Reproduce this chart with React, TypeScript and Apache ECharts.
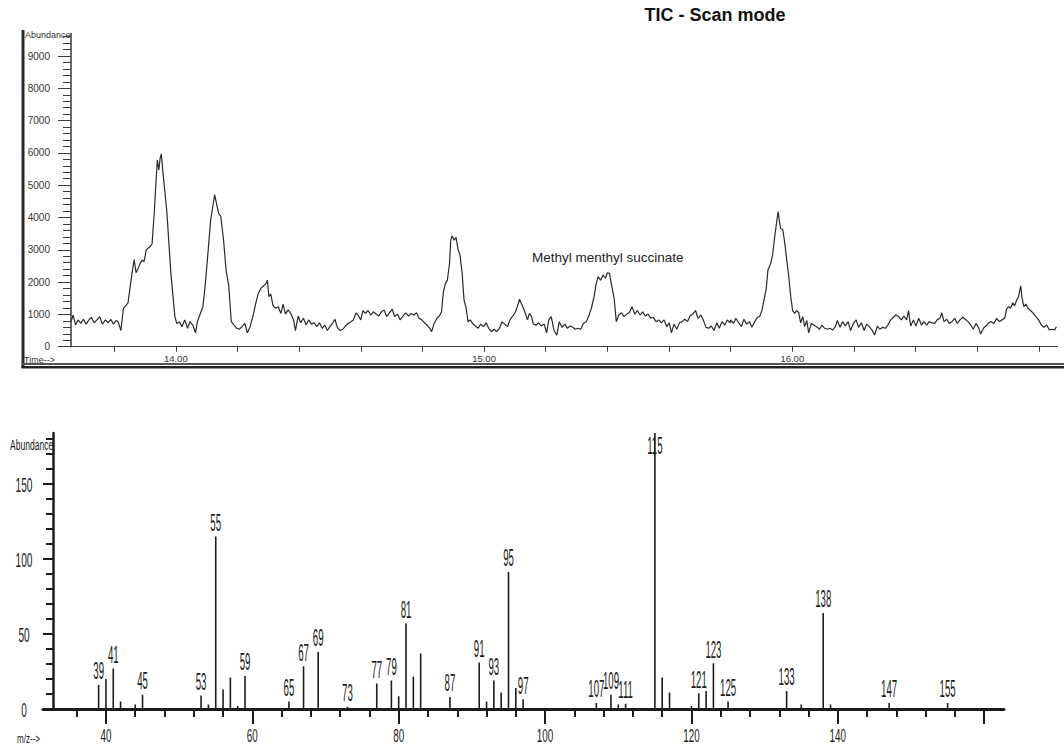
import React, { useEffect, useRef } from "react";
import * as echarts from "echarts";

// ---------- Top panel: total ion chromatogram (TIC) ----------
const TIC_TITLE = "TIC - Scan mode";
const PEAK_NOTE = "Methyl menthyl succinate";

// [retention time (min), abundance]
const ticSegment1: [number, number][] = [
  [13.660,775],[13.667,980],[13.675,670],[13.683,830],[13.692,720],[13.700,850],[13.709,700],[13.718,830],[13.726,910],[13.735,740],
  [13.744,830],[13.753,930],[13.762,700],[13.772,830],[13.780,740],[13.789,850],[13.798,700],[13.806,810],[13.813,770],[13.822,500],
  [13.830,1190],[13.839,1290],[13.845,1360],[13.852,1860],[13.858,2270],[13.865,2700],[13.871,2290],[13.878,2430],[13.884,2580],[13.891,2680],
  [13.897,2630],[13.904,2990],[13.910,3050],[13.917,3100],[13.923,3180],[13.930,4130],[13.936,5160],[13.940,5780],[13.945,5470],[13.949,5830],
  [13.953,5970],[13.958,5420],[13.964,4850],[13.971,4180],[13.977,3300],[13.984,2270],[13.990,1650],[13.997,930],[14.003,720],[14.012,775],
  [14.020,620],[14.029,830],[14.038,570],[14.046,775],[14.055,670],[14.064,430],[14.070,775],[14.079,1010],[14.088,1240],[14.096,1960],
  [14.105,2990],[14.113,3920],[14.120,4340],[14.126,4700],[14.133,4390],[14.139,4130],[14.146,4030],[14.155,3300],[14.163,2370],[14.172,1860],
  [14.180,775],[14.189,670],[14.198,570],[14.206,540],[14.215,620],[14.224,720],[14.232,430],[14.241,620],[14.250,930],[14.258,1290],
  [14.267,1630],[14.276,1810],[14.284,1880],[14.293,1960],[14.297,2060],[14.302,1550],[14.308,1630],[14.315,1290],[14.323,1190],[14.332,1240],
  [14.341,1030],[14.348,1320],[14.356,1010],[14.364,1140],[14.373,1030],[14.382,830],[14.388,500],[14.397,950],[14.405,740],[14.414,880],
  [14.423,670],[14.431,830],[14.440,700],[14.449,740],[14.457,620],[14.466,740],[14.475,570],[14.483,670],[14.492,500],[14.500,620],
  [14.509,740],[14.516,850],[14.524,600],[14.533,500],[14.542,540],[14.550,640],[14.559,720],[14.568,775],[14.576,830],[14.585,1050],
  [14.591,980],[14.600,830],[14.607,1120],[14.615,1030],[14.624,1120],[14.632,980],[14.641,1080],[14.650,1010],[14.658,950],[14.667,1080],
  [14.676,1140],[14.684,930],[14.693,1050],[14.702,1160],[14.710,930],[14.719,1010],[14.728,830],
];

const ticSegment2: [number, number][] = [
  [14.737,950],[14.746,1050],[14.755,950],[14.763,1030],[14.772,980],[14.781,1050],[14.789,880],[14.798,830],[14.807,740],[14.815,670],
  [14.824,570],[14.830,465],[14.838,720],[14.847,880],[14.855,950],[14.862,1080],[14.868,1700],[14.875,1960],[14.881,2060],[14.888,2580],
  [14.892,3300],[14.896,3430],[14.903,3300],[14.909,3390],[14.916,2990],[14.922,2840],[14.929,2270],[14.935,1450],[14.942,1190],[14.948,775],
  [14.955,830],[14.963,720],[14.972,640],[14.981,570],[14.989,700],[14.998,620],[15.007,740],[15.015,570],[15.024,465],[15.033,540],
  [15.041,465],[15.050,570],[15.058,775],[15.067,700],[15.076,620],[15.084,830],[15.093,950],[15.102,1080],[15.108,1240],[15.115,1470],
  [15.121,1340],[15.128,1190],[15.134,1030],[15.141,830],[15.147,1030],[15.154,930],[15.160,700],[15.169,670],[15.177,740],[15.186,640],
  [15.195,700],[15.203,430],[15.210,830],[15.218,930],[15.227,500],[15.236,360],[15.244,775],[15.253,600],[15.262,700],[15.270,570],
  [15.279,640],[15.288,600],[15.296,540],[15.305,570],[15.314,540],[15.322,720],[15.331,775],[15.339,930],[15.348,1190],[15.357,1550],
  [15.364,1960],[15.370,2170],[15.378,2060],[15.386,2220],[15.394,2120],[15.400,2290],[15.407,2270],[15.413,1940],[15.422,1500],[15.429,775],
  [15.437,980],[15.446,1050],[15.454,930],[15.463,1010],[15.471,1050],[15.480,1240],[15.489,1010],[15.497,1120],[15.506,980],[15.515,1080],
  [15.523,950],[15.532,1010],[15.541,880],[15.549,910],[15.558,775],[15.567,830],[15.575,740],[15.584,830],[15.593,620],[15.601,740],
  [15.608,430],[15.616,700],[15.625,540],[15.634,740],[15.642,775],[15.651,850],[15.660,775],[15.668,950],[15.677,1010],[15.686,1120],
  [15.694,880],[15.703,980],[15.711,830],[15.720,600],[15.729,570],[15.737,640],[15.746,500],[15.755,740],[15.763,570],[15.772,775],
  [15.781,670],[15.789,830],[15.798,740],
];

const ticSegment3: [number, number][] = [
  [15.800,830],[15.809,720],[15.817,880],[15.826,740],[15.835,620],[15.843,850],[15.852,700],[15.861,775],[15.869,600],[15.878,775],
  [15.887,910],[15.895,950],[15.902,1140],[15.908,1450],[15.915,1760],[15.921,2380],[15.930,2580],[15.936,2840],[15.943,3410],[15.949,3840],
  [15.954,4180],[15.958,3900],[15.962,3660],[15.969,3630],[15.975,3250],[15.982,2680],[15.988,2220],[15.995,1550],[16.001,1120],[16.008,1030],
  [16.014,1120],[16.021,1050],[16.027,740],[16.034,930],[16.040,620],[16.047,810],[16.053,430],[16.062,720],[16.070,670],[16.079,620],
  [16.088,540],[16.096,670],[16.105,570],[16.114,540],[16.122,570],[16.131,520],[16.140,620],[16.146,810],[16.155,600],[16.163,775],
  [16.172,640],[16.181,775],[16.189,500],[16.198,720],[16.207,830],[16.215,600],[16.224,740],[16.233,500],[16.241,700],[16.250,620],
  [16.258,520],[16.267,360],[16.276,640],[16.284,540],[16.293,600],[16.302,570],[16.310,670],[16.319,830],[16.328,910],[16.336,980],
  [16.345,930],[16.354,830],[16.362,950],[16.371,830],[16.377,1120],[16.384,640],[16.393,830],[16.401,640],[16.410,880],[16.419,670],
  [16.427,775],[16.436,670],[16.444,775],[16.453,740],[16.462,720],[16.470,830],[16.479,880],[16.485,1050],[16.492,775],[16.501,850],
  [16.509,720],[16.518,775],[16.527,880],[16.535,720],[16.544,830],[16.553,910],[16.561,850],[16.570,775],[16.579,670],[16.587,540],
  [16.596,720],[16.604,600],[16.611,390],[16.620,570],[16.628,640],[16.637,740],[16.646,775],[16.654,720],[16.663,880],[16.671,775],
  [16.680,830],[16.689,880],[16.695,1160],[16.702,1240],[16.708,1190],[16.715,1360],[16.721,1260],[16.728,1450],[16.734,1550],[16.741,1880],
  [16.745,1530],[16.751,1240],[16.758,1320],[16.764,1190],[16.773,1120],[16.782,1030],[16.790,930],[16.799,830],[16.808,670],[16.816,600],
  [16.825,670],[16.834,520],[16.842,540],[16.851,520],[16.857,620],
];

const ticXTickLabels = [14, 15, 16];
const ticXTicks = [13.8, 14.0, 14.2, 14.4, 14.6, 14.8, 15.0, 15.2, 15.4, 15.6, 15.8, 16.0, 16.2, 16.4, 16.6, 16.8];
const ticYTickLabels = [0, 1000, 2000, 3000, 4000, 5000, 6000, 7000, 8000, 9000];

// ---------- Bottom panel: mass spectrum ----------
const msMz = [39, 40, 41, 42, 44, 45, 53, 54, 55, 56, 57, 58, 59, 65, 67, 69, 73, 77, 79, 80, 81, 82, 83, 87, 91, 92, 93, 94, 95, 96, 97, 107, 109, 110, 111, 115, 116, 117, 120, 121, 122, 123, 125, 133, 135, 138, 139, 147, 155];
const msAbundance = [16, 20, 27, 5, 3, 9.5, 9, 3, 115, 13, 21, 2, 22, 5, 28.5, 38, 1.5, 17, 19, 8.5, 57, 21.5, 37, 8, 31, 5, 19, 11, 91.5, 14, 6.5, 4, 9.5, 3, 3.5, 184, 21, 11, 2, 10.5, 12, 30.5, 5, 12, 3, 64, 3, 4, 4];
const msLabeled = [39, 41, 45, 53, 55, 59, 65, 67, 69, 73, 77, 79, 81, 87, 91, 93, 95, 97, 107, 109, 111, 115, 121, 123, 125, 133, 138, 147, 155];
const msXTickLabels = [40, 60, 80, 100, 120, 140];
const msYTickLabels = [0, 50, 100, 150];

const MS_X_MIN = 31.4;
const MS_X_MAX = 162.7;
const MS_Y_MAX = 184;
const TIC_X_MIN = 13.66;
const TIC_X_MAX = 16.86;
const TIC_Y_MAX = 9700;

const SANS = "'Liberation Sans', Arial, Helvetica, sans-serif";
const INK = "#1c1c1c";

function steps(from: number, to: number, step: number): number[] {
  const out: number[] = [];
  for (let v = from; v <= to + 1e-9; v += step) out.push(Math.round(v * 1000) / 1000);
  return out;
}

export default function App() {
  const ref = useRef<HTMLDivElement>(null);

  useEffect(() => {
    if (!ref.current) return;
    const chart = echarts.init(ref.current, null, { renderer: "svg" });
    const labeledSet = new Set(msLabeled);
    const ticData = [...ticSegment1, ...ticSegment2, ...ticSegment3];

    const condensedText = (x: number, y: number, text: string, size: number, scaleX: number, align = "center", vAlign = "middle") => ({
      type: "text",
      x,
      y,
      scaleX,
      silent: true,
      style: {
        text,
        fontSize: size,
        fontFamily: SANS,
        fill: INK,
        align,
        verticalAlign: vAlign,
        textAlign: align,
        textVerticalAlign: vAlign,
      },
    });

    const option: any = {
      animation: false,
      backgroundColor: "#ffffff",
      grid: [
        { left: 71, right: 6.6, top: 33.4, bottom: 401.3, containLabel: false, outerBoundsMode: "none" },
        { left: 43, right: 60, top: 433, bottom: 39, containLabel: false, outerBoundsMode: "none" },
      ],
      xAxis: [
        {
          gridIndex: 0, type: "value", min: TIC_X_MIN, max: TIC_X_MAX, position: "bottom",
          axisLine: { show: true, onZero: false, lineStyle: { color: "#3a3a3a", width: 1 } },
          axisTick: { show: true, customValues: ticXTicks, length: 5, lineStyle: { color: "#3a3a3a", width: 1 } },
          axisLabel: {
            show: true, customValues: ticXTickLabels, formatter: (v: number) => v.toFixed(2),
            fontSize: 9.5, fontFamily: SANS, color: "#333", margin: 7,
          },
          splitLine: { show: false },
        },
        {
          gridIndex: 1, type: "value", min: MS_X_MIN, max: MS_X_MAX, position: "bottom",
          axisLine: { show: true, onZero: false, lineStyle: { color: INK, width: 3 } },
          axisTick: { show: true, customValues: steps(36, 160, 4), length: 8, lineStyle: { color: INK, width: 2 } },
          axisLabel: { show: false },
          splitLine: { show: false },
        },
        {
          gridIndex: 1, type: "value", min: MS_X_MIN, max: MS_X_MAX, position: "bottom",
          axisLine: { show: false, onZero: false },
          axisTick: { show: true, customValues: steps(40, 160, 20), length: 15, lineStyle: { color: INK, width: 2 } },
          axisLabel: { show: false },
          splitLine: { show: false },
        },
      ],
      yAxis: [
        {
          gridIndex: 0, type: "value", min: 0, max: TIC_Y_MAX, position: "left",
          axisLine: { show: true, onZero: false, lineStyle: { color: "#3a3a3a", width: 1.5 } },
          axisTick: { show: true, customValues: ticYTickLabels, length: 13, lineStyle: { color: "#3a3a3a", width: 1 } },
          axisLabel: {
            show: true, customValues: ticYTickLabels, formatter: (v: number) => String(v),
            fontSize: 10, fontFamily: SANS, color: "#333", margin: 21,
          },
          splitLine: { show: false },
        },
        {
          gridIndex: 0, type: "value", min: 0, max: TIC_Y_MAX, position: "left",
          axisLine: { show: false, onZero: false },
          axisTick: { show: true, customValues: steps(0, 9600, 200), length: 8, lineStyle: { color: "#3a3a3a", width: 1 } },
          axisLabel: { show: false },
          splitLine: { show: false },
        },
        {
          gridIndex: 1, type: "value", min: 0, max: MS_Y_MAX, position: "left", offset: -10,
          axisLine: { show: true, onZero: false, lineStyle: { color: INK, width: 2.5 } },
          axisTick: { show: true, customValues: steps(0, 180, 10), length: 7, lineStyle: { color: INK, width: 2 } },
          axisLabel: { show: false },
          splitLine: { show: false },
        },
        {
          gridIndex: 1, type: "value", min: 0, max: MS_Y_MAX, position: "left", offset: -10,
          axisLine: { show: false, onZero: false },
          axisTick: { show: true, customValues: msYTickLabels, length: 10, lineStyle: { color: INK, width: 2 } },
          axisLabel: { show: false },
          splitLine: { show: false },
        },
      ],
      series: [
        {
          type: "line",
          xAxisIndex: 0,
          yAxisIndex: 0,
          data: ticData,
          showSymbol: false,
          symbol: "none",
          silent: true,
          lineStyle: { color: "#2a2a2a", width: 1.2 },
        },
        {
          type: "custom",
          xAxisIndex: 1,
          yAxisIndex: 2,
          silent: true,
          data: msMz.map((m, i) => [m, msAbundance[i]]),
          renderItem: (_params: any, api: any) => {
            const mz = api.value(0) as number;
            const ab = api.value(1) as number;
            const base = api.coord([mz, 0]);
            const top = api.coord([mz, ab]);
            const ceiling = api.coord([mz, MS_Y_MAX])[1];
            const children: any[] = [
              {
                type: "line",
                shape: { x1: base[0], y1: base[1], x2: top[0], y2: top[1] },
                style: { stroke: INK, lineWidth: 1.6 },
              },
            ];
            if (labeledSet.has(mz)) {
              const y = Math.max(top[1] - 2, ceiling + 25);
              children.push(condensedText(top[0], y, String(mz), 23, 0.42, "center", "bottom"));
            }
            return { type: "group", children };
          },
        },
        {
          type: "custom",
          xAxisIndex: 1,
          yAxisIndex: 2,
          silent: true,
          data: msXTickLabels.map((v) => [v, 0]),
          renderItem: (_params: any, api: any) => {
            const p = api.coord([api.value(0), 0]);
            return condensedText(p[0], p[1] + 26, String(api.value(0)), 19, 0.52);
          },
        },
        {
          type: "custom",
          xAxisIndex: 1,
          yAxisIndex: 2,
          silent: true,
          data: msYTickLabels.map((v) => [MS_X_MIN, v]),
          renderItem: (_params: any, api: any) => {
            const p = api.coord([MS_X_MIN, api.value(1)]);
            return condensedText(p[0] - 19, p[1], String(api.value(1)), 21, 0.48);
          },
        },
      ],
      graphic: [
        // top panel frame
        { type: "rect", shape: { x: 21.5, y: 30, width: 3, height: 338 }, style: { fill: "#2a2a2a" }, silent: true },
        { type: "rect", shape: { x: 21.5, y: 363, width: 1043, height: 2 }, style: { fill: "#555" }, silent: true },
        { type: "rect", shape: { x: 21.5, y: 366, width: 1043, height: 2.5 }, style: { fill: "#222" }, silent: true },
        {
          type: "text", x: 715, y: 15, silent: true,
          style: { text: TIC_TITLE, fontSize: 18, fontWeight: "bold", fontFamily: SANS, fill: "#111", align: "center", verticalAlign: "middle", textAlign: "center", textVerticalAlign: "middle" },
        },
        {
          type: "text", x: 532, y: 257, silent: true,
          style: { text: PEAK_NOTE, fontSize: 13.5, fontFamily: SANS, fill: "#222", align: "left", verticalAlign: "middle", textAlign: "left", textVerticalAlign: "middle" },
        },
        {
          type: "text", x: 25, y: 35, silent: true,
          style: { text: "Abundance", fontSize: 9, fontFamily: SANS, fill: "#333", align: "left", verticalAlign: "middle", textAlign: "left", textVerticalAlign: "middle" },
        },
        {
          type: "text", x: 24, y: 360, silent: true,
          style: { text: "Time-->", fontSize: 9, fontFamily: SANS, fill: "#333", align: "left", verticalAlign: "middle", textAlign: "left", textVerticalAlign: "middle" },
        },
        // bottom panel texts
        condensedText(10, 445, "Abundance", 15, 0.57, "left", "middle"),
        condensedText(17, 738, "m/z-->", 13, 0.62, "left", "middle"),
      ],
    };

    chart.setOption(option);
    return () => chart.dispose();
  }, []);

  return (
    <div
      ref={ref}
      style={{ position: "fixed", left: 0, top: 0, width: 1064, height: 748, background: "#ffffff" }}
    />
  );
}
